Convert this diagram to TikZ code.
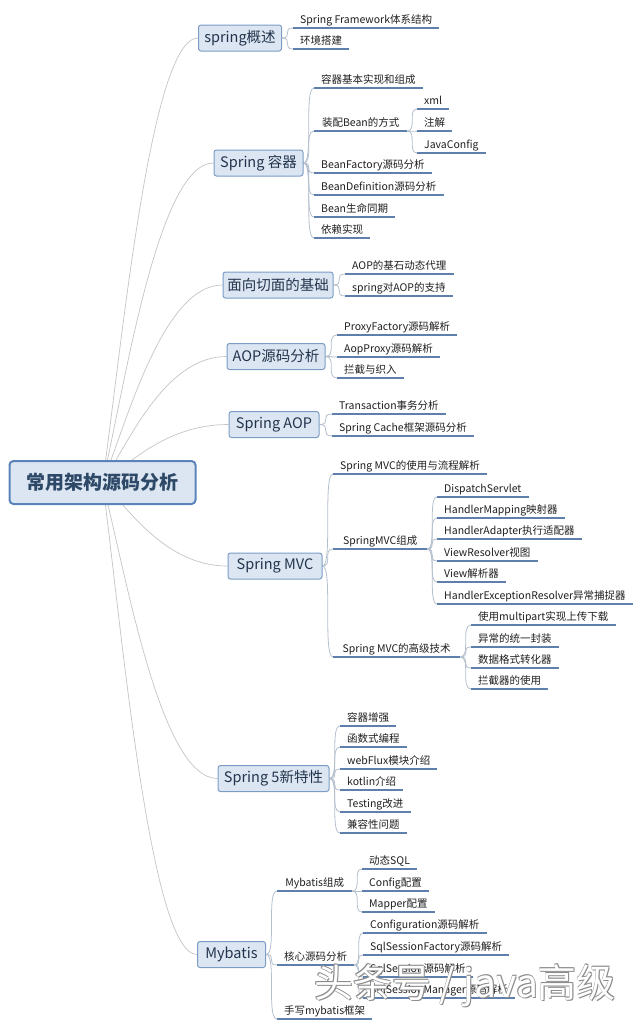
\documentclass[tikz,border=0pt]{standalone}
\usepackage{fontspec}
\setmainfont{Noto Sans CJK SC}
\usetikzlibrary{calc}
\definecolor{boxfill}{HTML}{DCE6F2}
\definecolor{boxdraw}{HTML}{7B9CC4}
\definecolor{rootdraw}{HTML}{5A84B8}
\definecolor{boxtext}{HTML}{22344D}
\definecolor{roottext}{HTML}{2E4868}
\definecolor{leaftext}{HTML}{1E1E1E}
\definecolor{ulcolor}{HTML}{5F80AC}
\definecolor{mainline}{HTML}{C4C4C4}
\definecolor{subline}{HTML}{B3BFCD}
\definecolor{wmedge}{HTML}{8C8C8C}
\pgfdeclarelayer{bg}
\pgfsetlayers{bg,main}
\begin{document}
\begin{tikzpicture}[x=1pt,y=-1pt,
  rootbox/.style={draw=rootdraw, line width=2pt, fill=boxfill, rounded corners=4pt,
    minimum width=186pt, minimum height=43pt, inner sep=0pt,
    font=\fontsize{19}{22}\selectfont\bfseries, text=roottext},
  topic/.style={draw=boxdraw, line width=1pt, fill=boxfill, rounded corners=2.5pt,
    minimum height=26pt, inner xsep=3pt, inner ysep=0pt,
    font=\fontsize{14.5}{17}\selectfont, text=boxtext},
  uline/.style={draw=ulcolor, line width=1.3pt},
  leaf/.style={anchor=south west, inner xsep=7pt, inner ysep=2.5pt,
    text height=8.5pt, text depth=2pt,
    font=\fontsize{10.5}{12}\selectfont, text=leaftext,
    append after command={\pgfextra{\let\ulnode\tikzlastnode}
      (\ulnode.south west) edge[uline] (\ulnode.south east)}},
  mainbr/.style={draw=mainline, line width=0.7pt,
    to path={let \p1=(\tikztostart), \p2=(\tikztotarget) in
      .. controls ({\x1+0.2*(\x2-\x1)},{\y1+0.3*(\y2-\y1)}) and ({\x1+0.5*(\x2-\x1)},{\y2}) .. (\tikztotarget)}},
  subbr/.style={draw=subline, line width=0.8pt,
    to path={let \p1=(\tikztostart), \p2=(\tikztotarget) in
      .. controls (\x2,\y1) and (\x1,\y2) .. (\tikztotarget)}},
  wmark/.style={font=\fontsize{39}{41}\selectfont, inner sep=0pt}
]
\useasboundingbox (0,0) rectangle (640,1028);

% root
\node[rootbox] (R) at (102.5,482.5) {常用架构源码分析};

% level 1
\node[topic, minimum width=83pt]  (A1) at (240,38)     {spring概述};
\node[topic, minimum width=89pt]  (A2) at (258.5,163)  {Spring 容器};
\node[topic, minimum width=110pt] (A3) at (278,285)    {面向切面的基础};
\node[topic, minimum width=98pt]  (A4) at (276,356.5)  {AOP源码分析};
\node[topic, minimum width=90pt]  (A5) at (274,424.5)  {Spring AOP};
\node[topic, minimum width=94pt]  (A6) at (275,566)    {Spring MVC};
\node[topic, minimum width=111pt] (A7) at (273.5,778.5){Spring 5新特性};
\node[topic, minimum width=68pt]  (A8) at (231.5,954.5){Mybatis};

% spring概述
\node[leaf] (a11) at (293,28) {Spring Framework体系结构};
\node[leaf] (a12) at (293,49) {环境搭建};

% Spring 容器
\node[leaf] (a21) at (314,88)  {容器基本实现和组成};
\node[leaf, minimum width=93pt] (a22) at (314,131) {装配Bean的方式};
\node[leaf] (a221) at (417,109) {xml};
\node[leaf] (a222) at (417,131) {注解};
\node[leaf] (a223) at (417,153) {JavaConfig};
\node[leaf] (a23) at (314,173) {BeanFactory源码分析};
\node[leaf] (a24) at (314,195) {BeanDefinition源码分析};
\node[leaf] (a25) at (314,217) {Bean生命同期};
\node[leaf] (a26) at (314,238) {依赖实现};

% 面向切面的基础
\node[leaf] (a31) at (345,274) {AOP的基石动态代理};
\node[leaf] (a32) at (345,296) {spring对AOP的支持};

% AOP源码分析
\node[leaf] (a41) at (337,335) {ProxyFactory源码解析};
\node[leaf] (a42) at (337,357) {AopProxy源码解析};
\node[leaf] (a43) at (337,378) {拦截与织入};

% Spring AOP
\node[leaf] (a51) at (332,414) {Transaction事务分析};
\node[leaf] (a52) at (332,436) {Spring Cache框架源码分析};

% Spring MVC
\node[leaf] (a61) at (333,474) {Spring MVC的使用与流程解析};
\node[leaf, minimum width=94pt] (a62) at (333,549) {SpringMVC组成};
\node[leaf] (a621) at (437,497) {DispatchServlet};
\node[leaf] (a622) at (437,518) {HandlerMapping映射器};
\node[leaf] (a623) at (437,539) {HandlerAdapter执行适配器};
\node[leaf] (a624) at (437,561) {ViewResolver视图};
\node[leaf] (a625) at (437,582) {View解析器};
\node[leaf] (a626) at (437,604) {HandlerExceptionResolver异常捕捉器};
\node[leaf, minimum width=127pt] (a63) at (333,657) {Spring MVC的高级技术};
\node[leaf] (a631) at (471,625) {使用multipart实现上传下载};
\node[leaf] (a632) at (471,647) {异常的统一封装};
\node[leaf] (a633) at (471,668) {数据格式转化器};
\node[leaf] (a634) at (471,689) {拦截器的使用};

% Spring 5新特性
\node[leaf] (a71) at (340,726) {容器增强};
\node[leaf] (a72) at (340,747) {函数式编程};
\node[leaf] (a73) at (340,769) {webFlux模块介绍};
\node[leaf] (a74) at (340,790) {kotlin介绍};
\node[leaf] (a75) at (340,812) {Testing改进};
\node[leaf] (a76) at (340,833) {兼容性问题};

% Mybatis
\node[leaf, minimum width=75pt] (a81) at (277,891) {Mybatis组成};
\node[leaf] (a811) at (362,869) {动态SQL};
\node[leaf] (a812) at (362,891) {Config配置};
\node[leaf] (a813) at (362,912) {Mapper配置};
\node[leaf, minimum width=76pt] (a82) at (277,965) {核心源码分析};
\node[leaf] (a821) at (363,933) {Configuration源码解析};
\node[leaf] (a822) at (363,955) {SqlSessionFactory源码解析};
\node[leaf] (a823) at (363,977) {SqlSession源码解析};
\node[leaf] (a824) at (363,998) {SqlSessionManager源码解析};
\node[leaf] (a83) at (277,1019) {手写mybatis框架};

% connectors
\begin{pgfonlayer}{bg}
  \foreach \t in {A1,A2,A3,A4,A5,A6,A7,A8}
    \draw[mainbr] (R.center) to (\t.west);
  \foreach \p/\c in {A1/a11,A1/a12,
      A2/a21,A2/a22,A2/a23,A2/a24,A2/a25,A2/a26,
      A3/a31,A3/a32, A4/a41,A4/a42,A4/a43, A5/a51,A5/a52,
      A6/a61,A6/a62,A6/a63,
      A7/a71,A7/a72,A7/a73,A7/a74,A7/a75,A7/a76,
      A8/a81,A8/a82,A8/a83}
    \draw[subbr] (\p.east) to (\c.south west);
  \foreach \p/\c in {a22/a221,a22/a222,a22/a223,
      a62/a621,a62/a622,a62/a623,a62/a624,a62/a625,a62/a626,
      a63/a631,a63/a632,a63/a633,a63/a634,
      a81/a811,a81/a812,a81/a813,
      a82/a821,a82/a822,a82/a823,a82/a824}
    \draw[subbr] (\p.south east) to (\c.south west);
\end{pgfonlayer}

% watermark: white letters with a thin grey edge
\foreach \dx/\dy in {-0.5/-0.5, 0.5/-0.5, -0.5/0.5, 1/1}
  \node[wmark, text=wmedge] at (465+\dx,985.5+\dy) {头条号 / java高级};
\node[wmark, text=white] (wm) at (465,985.5) {头条号 / java高级};
\end{tikzpicture}
\end{document}
